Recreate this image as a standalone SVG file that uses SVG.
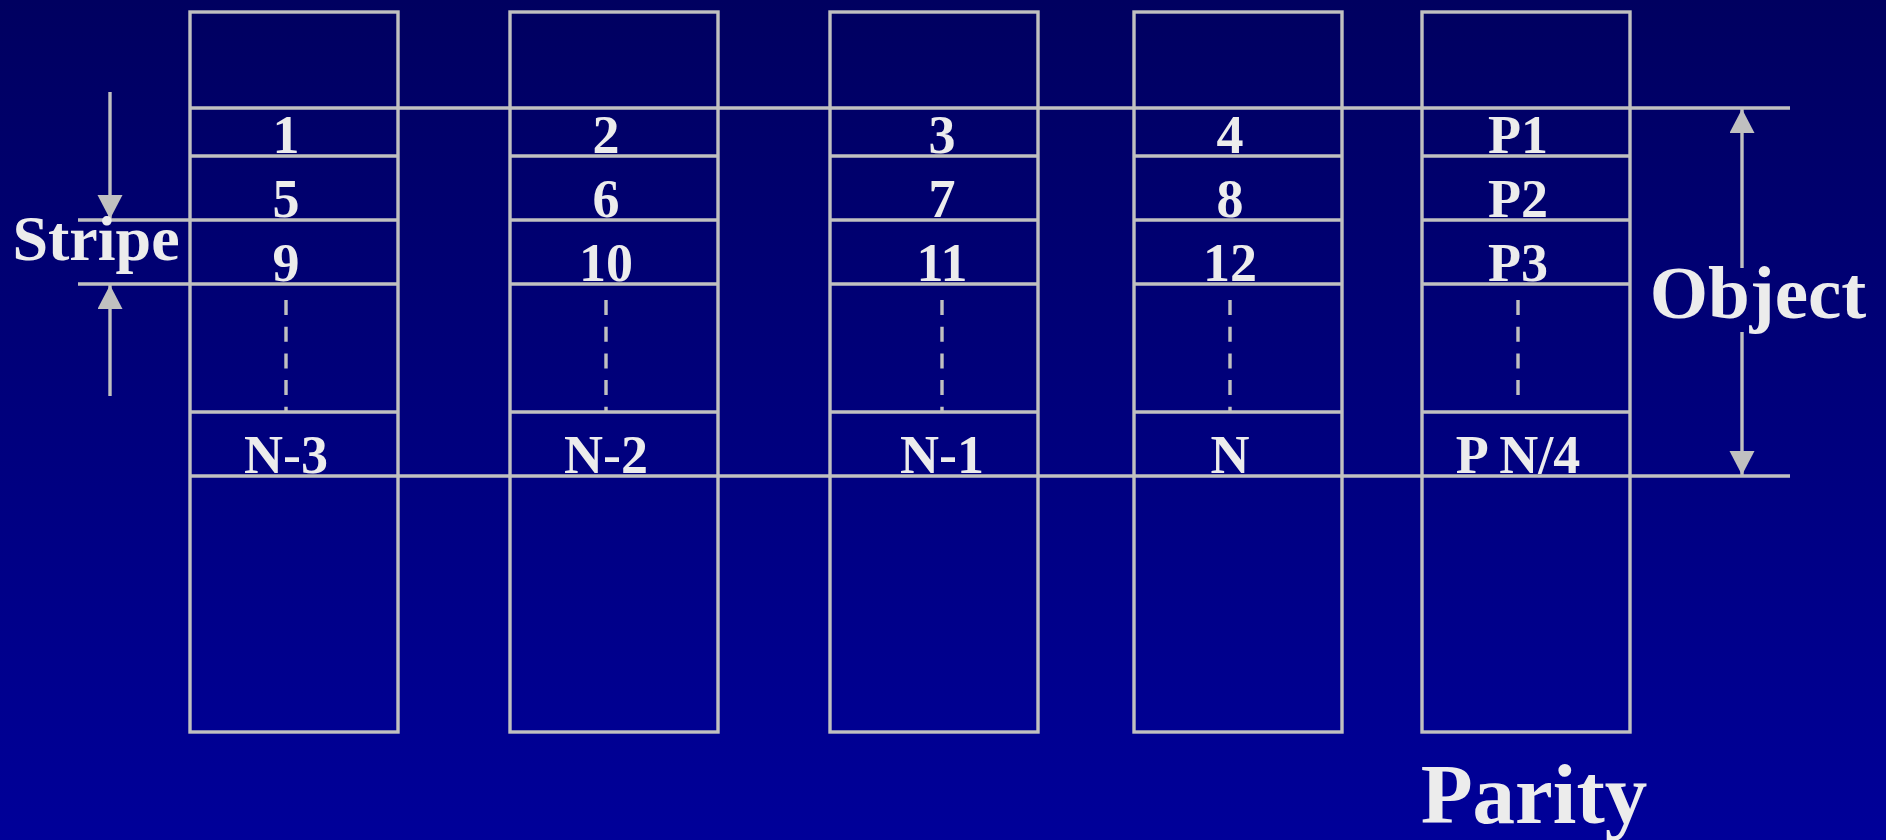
<svg xmlns="http://www.w3.org/2000/svg" width="1886" height="840" viewBox="0 0 1886 840">
  <defs>
    <linearGradient id="bg" x1="0" y1="0" x2="0" y2="1">
      <stop offset="0" stop-color="#000060"/>
      <stop offset="1" stop-color="#000099"/>
    </linearGradient>
    <marker id="arr" markerUnits="userSpaceOnUse" markerWidth="26" markerHeight="26" refX="24" refY="12.5" orient="auto" viewBox="0 0 26 26">
      <path d="M0,0 L24,12.5 L0,25 Z" fill="#c0c0c0"/>
    </marker>
    <style>
      .ln { stroke: #c0c0c0; stroke-width: 3.4; fill: none; }
      .dash { stroke: #c0c0c0; stroke-width: 3.4; fill: none; stroke-dasharray: 15 11.7; }
      .t { font-family: "Liberation Serif", "Times New Roman", serif; font-weight: bold; fill: #ececec; text-anchor: middle; }
      .cell { font-size: 54px; }
    </style>
  </defs>
  <rect x="0" y="0" width="1886" height="840" fill="url(#bg)"/>

  <g id="column1">
    <rect class="ln" x="190" y="12" width="208" height="720"/>
    <path class="ln" d="M190,156 H398 M190,220 H398 M190,284 H398 M190,412 H398"/>
    <line class="dash" x1="286" y1="300" x2="286" y2="412"/>
    <text class="t cell" x="286" y="153">1</text>
    <text class="t cell" x="286" y="217">5</text>
    <text class="t cell" x="286" y="281">9</text>
    <text class="t cell" x="286" y="473">N-3</text>
  </g>

  <g id="column2">
    <rect class="ln" x="510" y="12" width="208" height="720"/>
    <path class="ln" d="M510,156 H718 M510,220 H718 M510,284 H718 M510,412 H718"/>
    <line class="dash" x1="606" y1="300" x2="606" y2="412"/>
    <text class="t cell" x="606" y="153">2</text>
    <text class="t cell" x="606" y="217">6</text>
    <text class="t cell" x="606" y="281">10</text>
    <text class="t cell" x="606" y="473">N-2</text>
  </g>

  <g id="column3">
    <rect class="ln" x="830" y="12" width="208" height="720"/>
    <path class="ln" d="M830,156 H1038 M830,220 H1038 M830,284 H1038 M830,412 H1038"/>
    <line class="dash" x1="942" y1="300" x2="942" y2="412"/>
    <text class="t cell" x="942" y="153">3</text>
    <text class="t cell" x="942" y="217">7</text>
    <text class="t cell" x="942" y="281">11</text>
    <text class="t cell" x="942" y="473">N-1</text>
  </g>

  <g id="column4">
    <rect class="ln" x="1134" y="12" width="208" height="720"/>
    <path class="ln" d="M1134,156 H1342 M1134,220 H1342 M1134,284 H1342 M1134,412 H1342"/>
    <line class="dash" x1="1230" y1="300" x2="1230" y2="412"/>
    <text class="t cell" x="1230" y="153">4</text>
    <text class="t cell" x="1230" y="217">8</text>
    <text class="t cell" x="1230" y="281">12</text>
    <text class="t cell" x="1230" y="473">N</text>
  </g>

  <g id="column5">
    <rect class="ln" x="1422" y="12" width="208" height="720"/>
    <path class="ln" d="M1422,156 H1630 M1422,220 H1630 M1422,284 H1630 M1422,412 H1630"/>
    <line class="dash" x1="1518" y1="300" x2="1518" y2="397"/>
    <text class="t cell" x="1518" y="153">P1</text>
    <text class="t cell" x="1518" y="217">P2</text>
    <text class="t cell" x="1518" y="281">P3</text>
    <text class="t cell" x="1518" y="473">P N/4</text>
  </g>

  <g id="object-bounds">
    <line class="ln" x1="190" y1="108" x2="1790" y2="108"/>
    <line class="ln" x1="190" y1="476" x2="1790" y2="476"/>
  </g>

  <g id="stripe-bounds">
    <line class="ln" x1="78" y1="220" x2="190" y2="220"/>
    <line class="ln" x1="78" y1="284" x2="190" y2="284"/>
  </g>

  <g id="connectors">
    <line class="ln" x1="110" y1="92" x2="110" y2="219" marker-end="url(#arr)"/>
    <line class="ln" x1="110" y1="396" x2="110" y2="285" marker-end="url(#arr)"/>
    <line class="ln" x1="1742" y1="268" x2="1742" y2="109" marker-end="url(#arr)"/>
    <line class="ln" x1="1742" y1="332" x2="1742" y2="475" marker-end="url(#arr)"/>
  </g>

  <g id="labels">
    <text class="t" x="96" y="260" font-size="64">Stripe</text>
    <text class="t" x="1758" y="318" font-size="75">Object</text>
    <text class="t" x="1534" y="823" font-size="85">Parity</text>
  </g>
</svg>
